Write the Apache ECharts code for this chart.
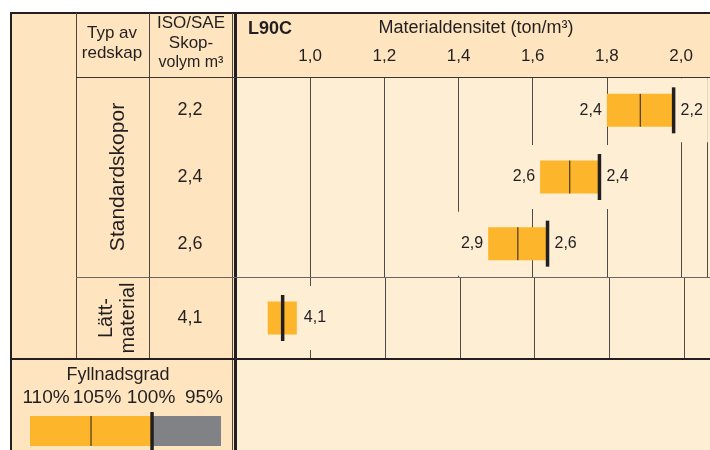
<!DOCTYPE html>
<html><head><meta charset="utf-8">
<script src="https://cdn.jsdelivr.net/npm/echarts/dist/echarts.min.js"></script>
<style>html,body{margin:0;padding:0;background:#fff}#c{width:710px;height:450px}</style>
</head><body><div id="c"></div>
<script>
// ---- data ----
const standardVolumes = ['2,2', '2,4', '2,6'];
const standardLow = [1.80, 1.62, 1.48];   // density at 110 % fill
const standardMid = [1.89, 1.70, 1.56];   // density at 105 % fill
const standardFull = [1.98, 1.78, 1.64];  // density at 100 % fill
const standardLeftLabels = ['2,4', '2,6', '2,9'];
const standardRightLabels = ['2,2', '2,4', '2,6'];
const lightVolumes = ['4,1'];
const lightLow = [0.885];
const lightFull = [0.925];
const lightHigh = [0.963];
const lightRightLabels = ['4,1'];
const fillLabels = ['110%', '105%', '100%', '95%'];
const fillYellow = [110, 100];
const fillMid = 105;
const fillGray = [100, 94.35];

// ---- styles ----
const FONT = '"Liberation Sans", Arial, sans-serif';
const INK = '#231f20';
const TABLE_BG = '#fee5bf';
const BODY_BG = '#fdeed4';
const BAR = '#fdb62b';
const GRAY = '#818285';
const GRID_LINE = '#4f4b49';

function rowRender(leftLabels, rightLabels, hasMid) {
  return function (params, api) {
    const i = params.dataIndex;
    const cat = api.value(0);
    const p0 = api.coord([api.value(1), cat]);
    const y = p0[1];
    const x0 = p0[0];
    const xm = hasMid ? api.coord([api.value(2), cat])[0] : null;
    const xf = api.coord([api.value(hasMid ? 3 : 2), cat])[0];
    const x1 = api.coord([api.value(hasMid ? 4 : 3), cat])[0];
    const h = 33;
    const ch = [];
    const lblStyle = { font: '16px ' + FONT, fill: INK, verticalAlign: 'middle', backgroundColor: BODY_BG };
    if (leftLabels && leftLabels[i]) {
      ch.push({ type: 'text', style: Object.assign({}, lblStyle, { text: leftLabels[i], x: x0, y: y, align: 'right', padding: [24, 5, 24, 5] }) });
    }
    if (rightLabels && rightLabels[i]) {
      ch.push({ type: 'text', style: Object.assign({}, lblStyle, { text: rightLabels[i], x: Math.max(xf, x1) + 1, y: y, align: 'left', padding: [24, 5, 24, 6] }) });
    }
    ch.push({ type: 'rect', shape: { x: x0, y: y - h / 2, width: x1 - x0, height: h }, style: { fill: BAR } });
    if (xm !== null) {
      ch.push({ type: 'line', shape: { x1: xm, y1: y - h / 2, x2: xm, y2: y + h / 2 }, style: { stroke: INK, lineWidth: 1 } });
    }
    ch.push({ type: 'line', shape: { x1: xf, y1: y - 23, x2: xf, y2: y + 23 }, style: { stroke: INK, lineWidth: 3.5 } });
    return { type: 'group', children: ch };
  };
}

function legendRender(params, api) {
  const a = api.coord([api.value(1), 0]);
  const b = api.coord([api.value(2), 0]);
  const m = api.coord([api.value(3), 0]);
  const g = api.coord([api.value(4), 0]);
  const y = a[1], h = 30;
  return {
    type: 'group', children: [
      { type: 'rect', shape: { x: Math.min(a[0], b[0]), y: y - h / 2, width: Math.abs(b[0] - a[0]), height: h }, style: { fill: BAR } },
      { type: 'rect', shape: { x: Math.min(b[0], g[0]), y: y - h / 2, width: Math.abs(g[0] - b[0]), height: h }, style: { fill: GRAY } },
      { type: 'line', shape: { x1: m[0], y1: y - h / 2, x2: m[0], y2: y + h / 2 }, style: { stroke: INK, lineWidth: 1 } },
      { type: 'line', shape: { x1: b[0], y1: y - h / 2 - 4, x2: b[0], y2: y + h / 2 + 5 }, style: { stroke: INK, lineWidth: 3.5 } }
    ]
  };
}

const XMIN = 0.8, XMAX = 2.07;
function tickFmt(v) {
  const r = Math.round(v * 5) / 5;
  if (Math.abs(r - v) > 1e-6 || v < 0.99 || v > 2.01) return '';
  return v.toFixed(1).replace('.', ',');
}

const chart = echarts.init(document.getElementById('c'));
const T = (text, x, y, size, extra) => Object.assign({ type: 'text', x: x, y: y, z: 20, style: { text: text, font: size + 'px ' + FONT, fill: INK, align: 'center', verticalAlign: 'middle' } }, extra || {});
const L = (x1, y1, x2, y2, w, c) => ({ type: 'line', z: 20, shape: { x1, y1, x2, y2 }, style: { stroke: c || INK, lineWidth: w } });

chart.setOption({
  animation: false,
  backgroundColor: BODY_BG,
  grid: [
    { left: 236, width: 474, top: 77, height: 200 },
    { left: 236, width: 474, top: 277, height: 82 },
    { left: 30, width: 191, top: 416, height: 30 }
  ],
  xAxis: [
    { gridIndex: 0, type: 'value', position: 'top', min: XMIN, max: XMAX, interval: 0.2,
      axisLine: { show: false }, axisTick: { show: false },
      axisLabel: { formatter: tickFmt, fontSize: 17, color: INK, fontFamily: FONT, margin: 12 },
      splitLine: { show: true, lineStyle: { color: GRID_LINE, width: 1 } } },
    { gridIndex: 1, type: 'value', min: XMIN, max: XMAX, interval: 0.2,
      axisLine: { show: false }, axisTick: { show: false }, axisLabel: { show: false },
      splitLine: { show: true, lineStyle: { color: GRID_LINE, width: 1 } } },
    { gridIndex: 2, type: 'value', min: fillGray[1], max: fillYellow[0], inverse: true, show: false }
  ],
  yAxis: [
    { gridIndex: 0, type: 'category', data: standardVolumes, inverse: true,
      axisLine: { show: false }, axisTick: { show: false }, splitLine: { show: false },
      axisLabel: { fontSize: 18, color: INK, fontFamily: FONT, align: 'center', margin: 46 } },
    { gridIndex: 1, type: 'category', data: lightVolumes, inverse: true,
      axisLine: { show: false }, axisTick: { show: false }, splitLine: { show: false },
      axisLabel: { fontSize: 18, color: INK, fontFamily: FONT, align: 'center', margin: 46 } },
    { gridIndex: 2, type: 'category', data: ['fill'], show: false }
  ],
  series: [
    { type: 'custom', xAxisIndex: 0, yAxisIndex: 0, z: 5,
      renderItem: rowRender(standardLeftLabels, standardRightLabels, true),
      encode: { x: [1, 2, 3, 4], y: 0 },
      data: standardVolumes.map((v, i) => [i, standardLow[i], standardMid[i], standardFull[i], standardFull[i]]) },
    { type: 'custom', xAxisIndex: 1, yAxisIndex: 1, z: 5,
      renderItem: rowRender(null, lightRightLabels, false),
      encode: { x: [1, 2, 3], y: 0 },
      data: lightVolumes.map((v, i) => [i, lightLow[i], lightFull[i], lightHigh[i]]) },
    { type: 'custom', xAxisIndex: 2, yAxisIndex: 2, z: 5,
      renderItem: legendRender,
      encode: { x: [1, 2, 3, 4], y: 0 },
      data: [[0, fillYellow[0], fillYellow[1], fillMid, fillGray[1]]] }
  ],
  graphic: [
    // backgrounds
    { type: 'rect', z: -10, silent: true, shape: { x: 0, y: 0, width: 710, height: 12 }, style: { fill: '#ffffff' } },
    { type: 'rect', z: -10, silent: true, shape: { x: 0, y: 0, width: 10, height: 450 }, style: { fill: '#ffffff' } },
    { type: 'rect', z: -10, silent: true, shape: { x: 10, y: 12, width: 225, height: 438 }, style: { fill: TABLE_BG } },
    { type: 'rect', z: -10, silent: true, shape: { x: 235, y: 12, width: 475, height: 65 }, style: { fill: TABLE_BG } },
    // lines
    L(11, 12, 11, 450, 2),
    L(10, 13, 710, 13, 2),
    L(76.5, 13, 76.5, 359, 1, '#4a4644'),
    L(149.5, 13, 149.5, 359, 1, '#4a4644'),
    L(232.5, 13, 232.5, 450, 1, '#4a4644'),
    L(235.5, 13, 235.5, 450, 3),
    L(76, 77.5, 710, 77.5, 1.2, '#3a3634'),
    L(76, 277.5, 710, 277.5, 1, '#6a6664'),
    L(10, 359, 710, 359, 2),
    // header texts
    T('Typ av', 112, 33, 17),
    T('redskap', 112, 53, 17),
    T('ISO/SAE', 191, 23, 17),
    T('Skop-', 191, 43, 17),
    T('volym m³', 191, 63, 16),
    T('L90C', 248, 29, 18, { style: { text: 'L90C', font: 'bold 18px ' + FONT, fill: INK, align: 'left', verticalAlign: 'middle' } }),
    T('Materialdensitet (ton/m³)', 476, 28, 18),
    // row group labels (rotated)
    T('Standardskopor', 118, 177, 21, { rotation: Math.PI / 2 }),
    T('Lätt-', 106, 318, 20, { rotation: Math.PI / 2 }),
    T('material', 128, 318, 20, { rotation: Math.PI / 2 }),
    // legend
    T('Fyllnadsgrad', 118, 375, 18),
    T(fillLabels[0], 46, 398, 19),
    T(fillLabels[1], 97, 398, 19),
    T(fillLabels[2], 151, 398, 19),
    T(fillLabels[3], 204, 398, 19)
  ]
});
</script>
</body></html>
